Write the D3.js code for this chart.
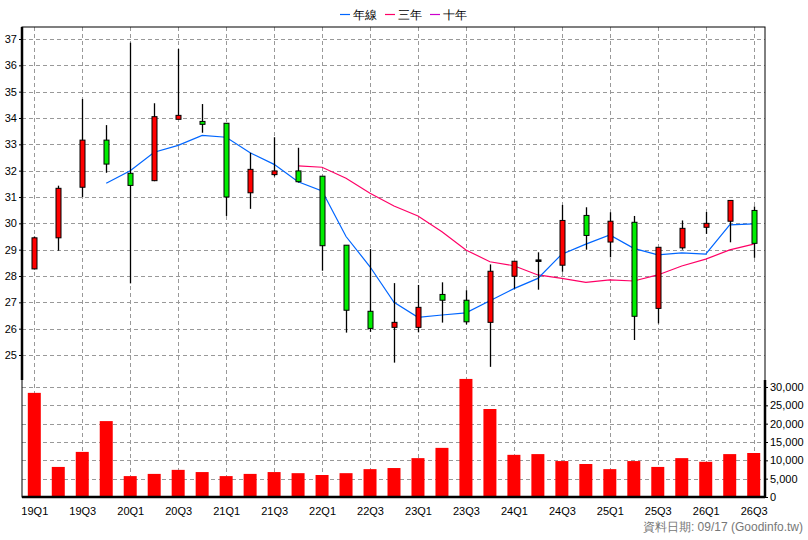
<!DOCTYPE html>
<html><head><meta charset="utf-8">
<script src="https://cdn.jsdelivr.net/npm/d3@7"></script>
<style>body{margin:0;background:#fff}svg{display:block;font-family:Arial,"Liberation Sans",sans-serif}</style>
</head><body><svg id="c" width="808" height="540"></svg>
<script>
const quarters=["19Q1","19Q2","19Q3","19Q4","20Q1","20Q2","20Q3","20Q4","21Q1","21Q2","21Q3","21Q4","22Q1","22Q2","22Q3","22Q4","23Q1","23Q2","23Q3","23Q4","24Q1","24Q2","24Q3","24Q4","25Q1","25Q2","25Q3","25Q4","26Q1","26Q2","26Q3"];
const open =[28.27,29.45,31.37,33.16,31.9,31.62,33.95,33.87,33.8,31.16,31.85,31.99,31.79,29.17,26.66,26.05,26.05,27.3,27.08,26.24,27.99,28.61,28.41,30.3,29.29,30.04,26.77,29.07,29.85,30.08,30.49];
const close=[29.45,31.33,33.16,32.25,31.44,34.05,34.1,33.76,31.0,32.05,31.99,31.58,29.15,26.7,26.01,26.24,26.81,27.08,26.26,28.18,28.56,28.61,30.11,29.54,30.08,26.47,29.09,29.81,30.0,30.87,29.24];
const high =[29.5,31.43,34.72,33.73,36.86,34.56,36.62,34.53,33.8,32.68,33.27,32.87,31.79,29.17,29.02,27.73,27.66,27.76,27.46,28.44,28.56,28.9,30.7,30.61,30.42,30.28,29.09,30.11,30.43,30.87,30.64];
const low  =[28.25,28.96,31.0,31.92,27.72,31.6,33.95,33.44,30.28,30.55,31.78,31.55,28.2,25.85,25.88,24.71,25.86,26.23,26.16,24.55,27.52,27.48,28.16,29.0,28.71,25.57,26.2,29.0,29.6,29.28,28.69];
const maYear=[null,null,null,31.52,32.0,32.7,32.96,33.34,33.27,32.68,32.24,31.58,31.23,29.5,28.35,27.0,26.43,26.52,26.6,27.06,27.52,27.91,28.83,29.21,29.56,29.05,28.8,28.88,28.83,29.94,29.98];
const ma3Year=[null,null,null,null,null,null,null,null,null,null,null,32.18,32.13,31.71,31.14,30.66,30.28,29.68,28.99,28.54,28.39,28.04,27.91,27.76,27.85,27.81,28.04,28.38,28.64,28.99,29.21];
const volume=[28400,8200,12300,20700,5700,6300,7400,6800,5700,6300,6800,6500,6000,6500,7600,7900,10600,13400,32200,24000,11500,11700,9800,9000,7600,9800,8200,10600,9600,11700,12000];
const priceTicks=[25,26,27,28,29,30,31,32,33,34,35,36,37];
const volTicks=[0,5000,10000,15000,20000,25000,30000];
const legendNames=["年線","三年","十年"];
const legendColors=["#0066ff","#ff0066","#cc00cc"];

const svg=d3.select("#c");
const L=22,R=765,T=27,MID=380,B=497;
const x=d3.scaleLinear().domain([0,30]).range([34.3,753.7]);
const y=d3.scalePoint?d3.scaleLinear().domain([25,37]).range([355,39]):null;
const yv=d3.scaleLinear().domain([0,30000]).range([B,387]);
const dash="4,3";
// grids
const g=svg.append("g");
priceTicks.forEach(t=>g.append("line").attr("x1",L).attr("x2",R).attr("y1",Math.round(y(t))+.5).attr("y2",Math.round(y(t))+.5).attr("stroke","#999").attr("stroke-dasharray",dash));
volTicks.filter(t=>t>0).forEach(t=>g.append("line").attr("x1",L).attr("x2",R).attr("y1",Math.round(yv(t))+.5).attr("y2",Math.round(yv(t))+.5).attr("stroke","#999").attr("stroke-dasharray",dash));
quarters.forEach((q,i)=>{if(i%2==0)g.append("line").attr("x1",Math.round(x(i))+.5).attr("x2",Math.round(x(i))+.5).attr("y1",T).attr("y2",B).attr("stroke","#999").attr("stroke-dasharray",dash);});
// volume bars
svg.selectAll(".v").data(volume).enter().append("rect").attr("x",(d,i)=>x(i)-6.5).attr("width",13).attr("y",d=>yv(d)).attr("height",d=>B-yv(d)).attr("fill","#ff0000");
// MA lines
function ml(arr,col){svg.append("path").datum(arr.map((v,i)=>[i,v]).filter(d=>d[1]!=null)).attr("d",d3.line().x(d=>x(d[0])).y(d=>y(d[1]))).attr("fill","none").attr("stroke",col).attr("stroke-width",1.2);}
ml(ma3Year,legendColors[1]);ml(maYear,legendColors[0]);
// candles
quarters.forEach((q,i)=>{
  const cx=Math.round(x(i))+.5;
  svg.append("line").attr("x1",cx).attr("x2",cx).attr("y1",y(high[i])).attr("y2",y(low[i])).attr("stroke","#000").attr("stroke-width",1.3);
  const top=y(Math.max(open[i],close[i])),bot=y(Math.min(open[i],close[i]));
  const col=close[i]>open[i]?"#ff0000":(close[i]<open[i]?"#00ee00":"#000");
  svg.append("rect").attr("x",cx-2.5).attr("width",5).attr("y",top).attr("height",Math.max(1.5,bot-top)).attr("fill",col).attr("stroke","#000").attr("stroke-width",1);
});
// frame
svg.append("rect").attr("x",L).attr("y",T).attr("width",R-L).attr("height",B-T).attr("fill","none").attr("stroke","#000").attr("stroke-width",1);
svg.append("line").attr("x1",L).attr("x2",L).attr("y1",T).attr("y2",MID).attr("stroke","#000").attr("stroke-width",2.5);
svg.append("line").attr("x1",R).attr("x2",R).attr("y1",MID).attr("y2",B).attr("stroke","#000").attr("stroke-width",2.5);
svg.append("line").attr("x1",L).attr("x2",R).attr("y1",B).attr("y2",B).attr("stroke","#000").attr("stroke-width",2.5);
// axes
const ya=svg.append("g").attr("transform",`translate(${L},0)`).call(d3.axisLeft(y).tickValues(priceTicks).tickSize(3).tickFormat(d3.format("d")));
ya.select(".domain").remove();
ya.selectAll("text").attr("x",-5).attr("font-size",11).attr("fill","#000").style("font-family","Arial");
const va=svg.append("g").attr("transform",`translate(${R},0)`).call(d3.axisRight(yv).tickValues(volTicks).tickSize(3).tickFormat(d3.format(",")));
va.select(".domain").remove();
va.selectAll("text").attr("x",5).attr("font-size",11).attr("fill","#000").style("font-family","Arial");
const xa=svg.append("g").attr("transform",`translate(0,${B})`).call(d3.axisBottom(x).tickValues(d3.range(0,31,2)).tickSize(0).tickFormat(i=>quarters[i]));
xa.select(".domain").remove();
xa.selectAll("text").attr("y",10).attr("font-size",11).attr("fill","#000").style("font-family","Arial");
// legend
let lx=340;
legendNames.forEach((n,i)=>{
  svg.append("line").attr("x1",lx).attr("x2",lx+10).attr("y1",14.5).attr("y2",14.5).attr("stroke",legendColors[i]).attr("stroke-width",1.2);
  svg.append("text").attr("x",lx+13).attr("y",19).attr("font-size",12).text(n);
  lx+=45;
});
svg.append("text").attr("x",803).attr("y",531).attr("text-anchor","end").attr("font-size",12).attr("fill","#777").text("資料日期: 09/17  (Goodinfo.tw)");
</script></body></html>
